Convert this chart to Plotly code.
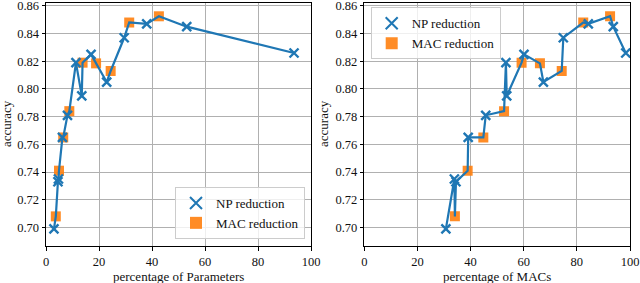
import plotly.graph_objects as go
from plotly.subplots import make_subplots

# NP reduction models
np_acc = [0.699, 0.733, 0.735, 0.765, 0.781, 0.795, 0.819, 0.825, 0.805, 0.837, 0.847, 0.845, 0.826]
np_params = [3.0, 4.5, 4.7, 6.2, 8.1, 13.5, 11.3, 17.0, 22.9, 29.5, 38.0, 53.1, 93.6]
np_macs = [30.7, 34.5, 33.9, 39.1, 45.7, 53.6, 53.3, 60.1, 67.4, 74.9, 84.3, 93.7, 98.4]

# MAC reduction models
mac_acc = [0.708, 0.741, 0.765, 0.784, 0.819, 0.8185, 0.813, 0.848, 0.8525]
mac_params = [3.7, 4.9, 6.5, 8.8, 13.8, 18.9, 24.4, 31.4, 42.6]
mac_macs = [34.1, 38.9, 44.8, 52.6, 59.2, 66.1, 74.3, 82.4, 92.5]

x_ticks = [0, 20, 40, 60, 80, 100]
y_ticks = [0.70, 0.72, 0.74, 0.76, 0.78, 0.80, 0.82, 0.84, 0.86]

BLUE = "#1f77b4"
ORANGE = "#ff7f0e"
FONT = "Liberation Serif"
TXT = "#111"

W, H = 640, 283
ML, MR, MT, MB = 46, 10, 3, 37
PW = W - ML - MR
PH = H - MT - MB

def px_x(p):
    return (p - ML) / PW

def px_y(p):
    return (H - MB - p) / PH

fig = make_subplots(rows=1, cols=2, horizontal_spacing=0.0)
fig.layout.xaxis.domain = [0, px_x(311)]
fig.layout.xaxis2.domain = [px_x(364.3), 1.0]

def add_panel(col, np_x, mac_x, legend_name):
    pts = sorted(list(zip(np_x, np_acc)) + list(zip(mac_x, mac_acc)), key=lambda t: t[0])
    fig.add_trace(go.Scatter(
        x=mac_x, y=mac_acc, mode="markers", name="MAC reduction",
        marker=dict(symbol="square", size=10, color=ORANGE, opacity=0.9,
                    line=dict(width=0)),
        legend=legend_name, legendrank=2), row=1, col=col)
    fig.add_trace(go.Scatter(
        x=[p[0] for p in pts], y=[p[1] for p in pts], mode="lines",
        line=dict(color=BLUE, width=2.2), showlegend=False, hoverinfo="skip"),
        row=1, col=col)
    fig.add_trace(go.Scatter(
        x=np_x, y=np_acc, mode="markers", name="NP reduction",
        marker=dict(symbol="x-thin", size=9, color=BLUE,
                    line=dict(width=2.4, color=BLUE)),
        legend=legend_name, legendrank=1), row=1, col=col)

add_panel(1, np_params, mac_params, "legend")
add_panel(2, np_macs, mac_macs, "legend2")

axis_common = dict(
    showline=True, linecolor="black", linewidth=1, mirror=True,
    ticks="outside", ticklen=3.5, tickwidth=0.8, tickcolor="black",
    showgrid=True, gridcolor="#b0b0b0", gridwidth=0.8, zeroline=False,
    automargin=False, ticklabeloverflow="allow",
    tickfont=dict(family=FONT, size=12.5, color=TXT),
)
for ax in ["xaxis", "xaxis2"]:
    fig.layout[ax].update(range=[0, 100], tickvals=x_ticks,
                          ticktext=[str(t) for t in x_ticks], **axis_common)
for ax in ["yaxis", "yaxis2"]:
    fig.layout[ax].update(range=[0.6866, 0.8621], tickvals=y_ticks,
                          ticktext=[f"{t:.2f}" for t in y_ticks], **axis_common)

legend_common = dict(
    bgcolor="rgba(255,255,255,0.8)", bordercolor="#cccccc", borderwidth=1,
    font=dict(family=FONT, size=13, color=TXT), itemsizing="constant",
    tracegroupgap=0,
)
fig.update_layout(
    legend=dict(x=px_x(305), y=px_y(239), xanchor="right", yanchor="bottom", **legend_common),
    legend2=dict(x=px_x(370.7), y=px_y(7.3), xanchor="left", yanchor="top", **legend_common),
)

ann = []
ann.append(dict(text="percentage of Parameters", x=px_x(178.5), y=px_y(276.5)))
ann.append(dict(text="percentage of MACs", x=px_x(497), y=px_y(276.5)))
ann.append(dict(text="accuracy", x=px_x(7), y=px_y(124), textangle=-90))
ann.append(dict(text="accuracy", x=px_x(324), y=px_y(124), textangle=-90))
for a in ann:
    fig.add_annotation(xref="paper", yref="paper", showarrow=False,
                       xanchor="center", yanchor="middle",
                       font=dict(family=FONT, size=13, color=TXT), **a)

fig.update_layout(
    width=W, height=H, margin=dict(l=ML, r=MR, t=MT, b=MB, autoexpand=False),
    paper_bgcolor="white", plot_bgcolor="white",
    font=dict(family=FONT, size=13),
)

fig.write_html("out.html", config={"displayModeBar": False},
               post_script="document.body.style.margin='0';document.body.style.overflow='hidden';")
